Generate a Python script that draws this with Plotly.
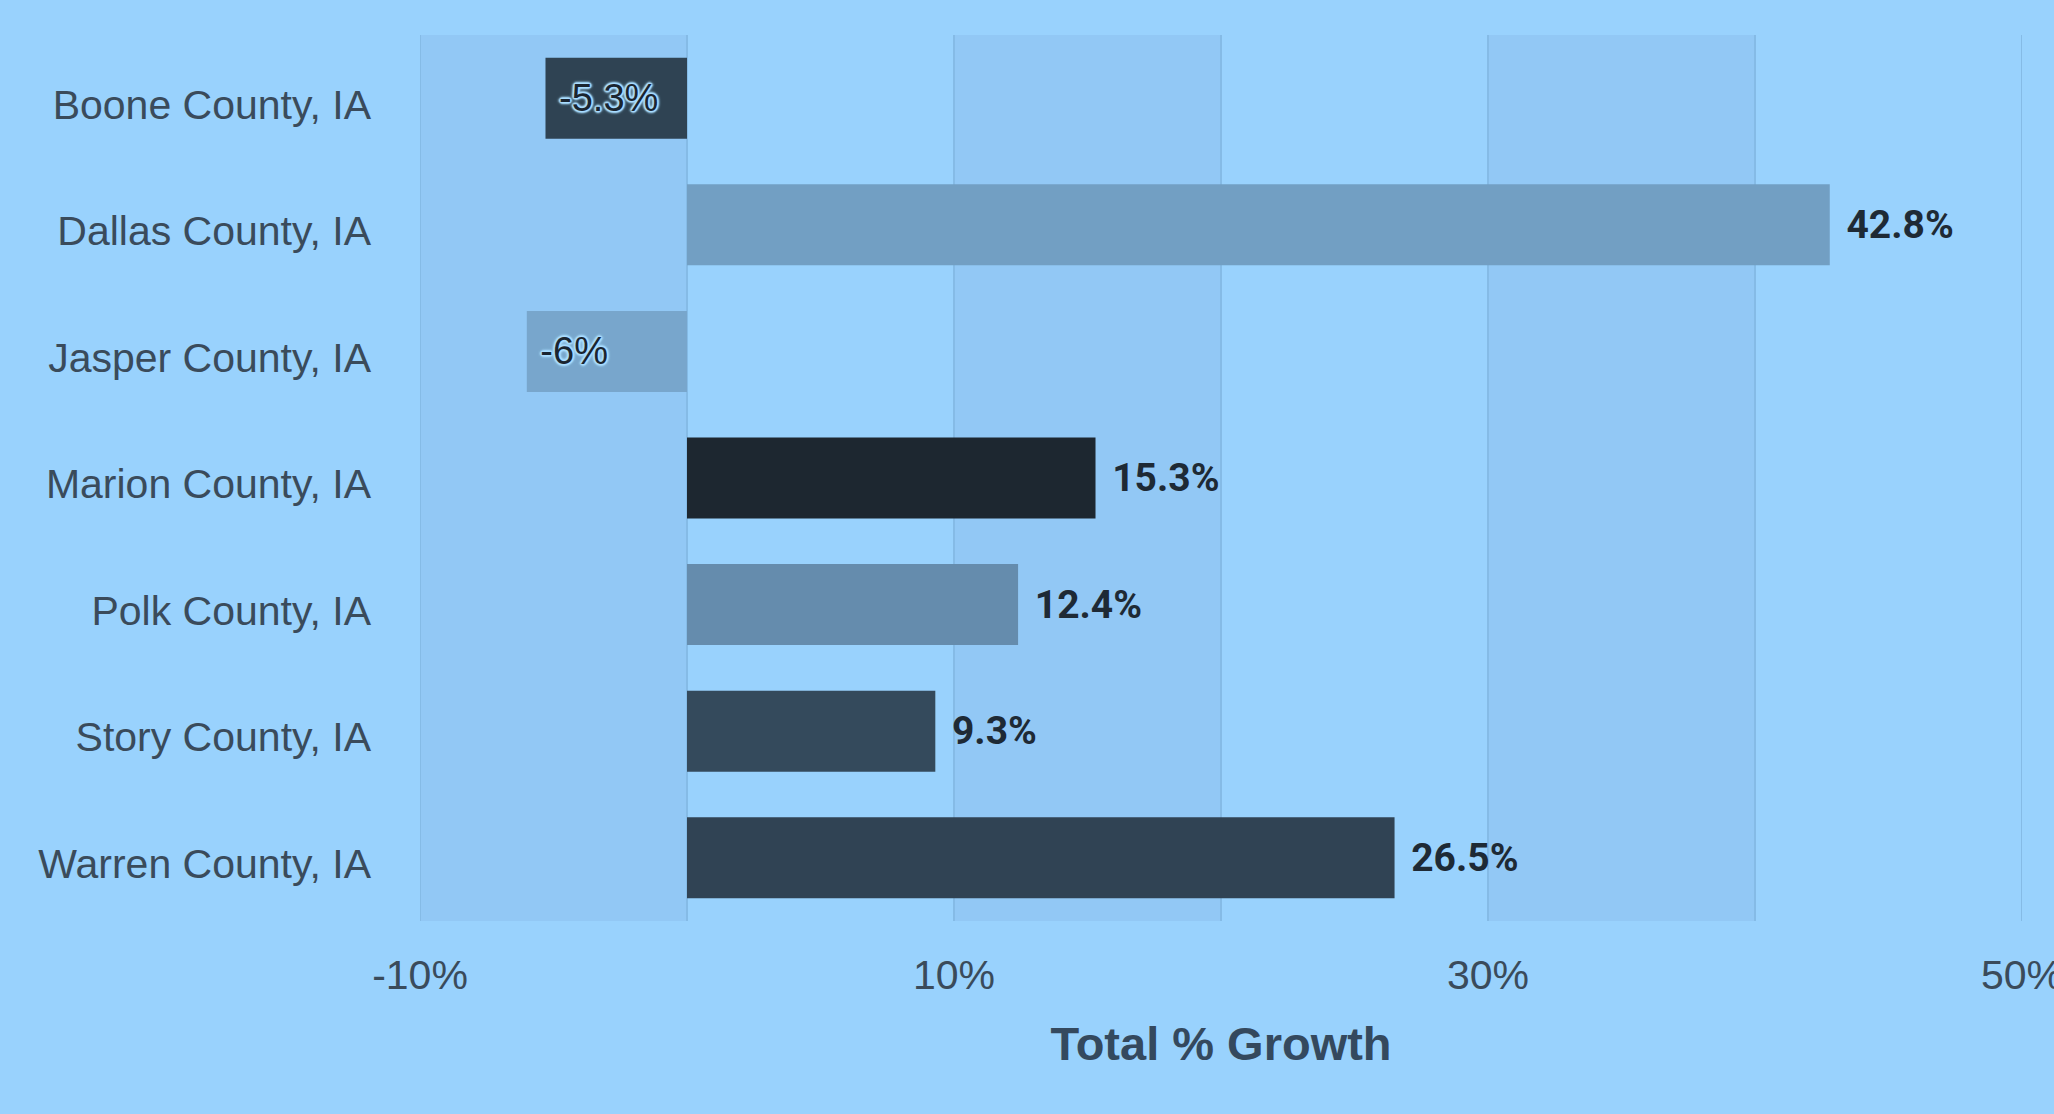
import plotly.graph_objects as go

counties = ["Boone County, IA", "Dallas County, IA", "Jasper County, IA", "Marion County, IA",
            "Polk County, IA", "Story County, IA", "Warren County, IA"]
growth = [-5.3, 42.8, -6.0, 15.3, 12.4, 9.3, 26.5]
bar_colors = ["#2f4353", "#729fc3", "#78a6cc", "#1d2730", "#658cad", "#344a5c", "#304354"]
tick_vals = [-10, 0, 10, 20, 30, 40, 50]
tick_text = ["-10%", "", "10%", "", "30%", "", "50%"]
band_ranges = [(-10, 0), (10, 20), (30, 40)]

labels = [f"\u00a0{v:g}%" if v < 0 else f"\u00a0\u200a{v:g}%" for v in growth]
positions = ["inside" if v < 0 else "outside" for v in growth]

BG = "#99d2fd"
FONT = "Liberation Sans, Arial, sans-serif"
G = "#a8dcff"
glow = (f"1px 1px 1px {G}, -1px -1px 1px {G}, 1px -1px 1px {G}, -1px 1px 1px {G}, "
        f"2px 0 2px {G}, -2px 0 2px {G}, 0 2px 2px {G}, 0 -2px 2px {G}, 0 0 4px {G}")

fig = go.Figure(go.Bar(
    y=counties, x=growth, orientation="h",
    marker=dict(color=bar_colors, line=dict(width=0)),
    text=labels, textposition=positions, insidetextanchor="end",
    insidetextfont=dict(family=FONT, size=38, color="#1a2530", shadow=glow),
    outsidetextfont=dict(family="Roboto, " + FONT, size=39, color="#1e2a35", weight="bold"),
    cliponaxis=False, hoverinfo="skip",
))

for a, b in band_ranges:
    fig.add_shape(type="rect", xref="x", yref="paper", x0=a, x1=b, y0=0, y1=1,
                  fillcolor="#92c8f5", line=dict(width=0), layer="below")
for v in tick_vals:
    fig.add_shape(type="line", xref="x", yref="paper", x0=v, x1=v, y0=0, y1=1,
                  line=dict(color="#85bbe6", width=2), layer="below")

fig.update_layout(
    width=2054, height=1114,
    paper_bgcolor=BG, plot_bgcolor=BG,
    margin=dict(l=420, r=32, t=35, b=193),
    bargap=0.36, showlegend=False,
    font=dict(family=FONT, color="#3a4b5b"),
)
fig.update_xaxes(
    range=[-10, 50], tickvals=tick_vals, ticktext=tick_text,
    showgrid=False, zeroline=False, showline=False, automargin=False,
    tickfont=dict(size=41, color="#3a4b5b"), ticklabelstandoff=26,
    ticklabeloverflow="allow",
    title=dict(text="Total % Growth", font=dict(size=47, color="#34495e", weight="bold"), standoff=30),
    fixedrange=True,
)
fig.update_yaxes(
    autorange="reversed", showgrid=False, zeroline=False, showline=False, automargin=False,
    tickfont=dict(size=41, color="#3a4b5b"), ticklabelstandoff=48, ticklabelshift=-6,
    fixedrange=True,
)

fig.write_html("out.html", config={"displayModeBar": False},
               post_script="document.body.style.margin='0';")
